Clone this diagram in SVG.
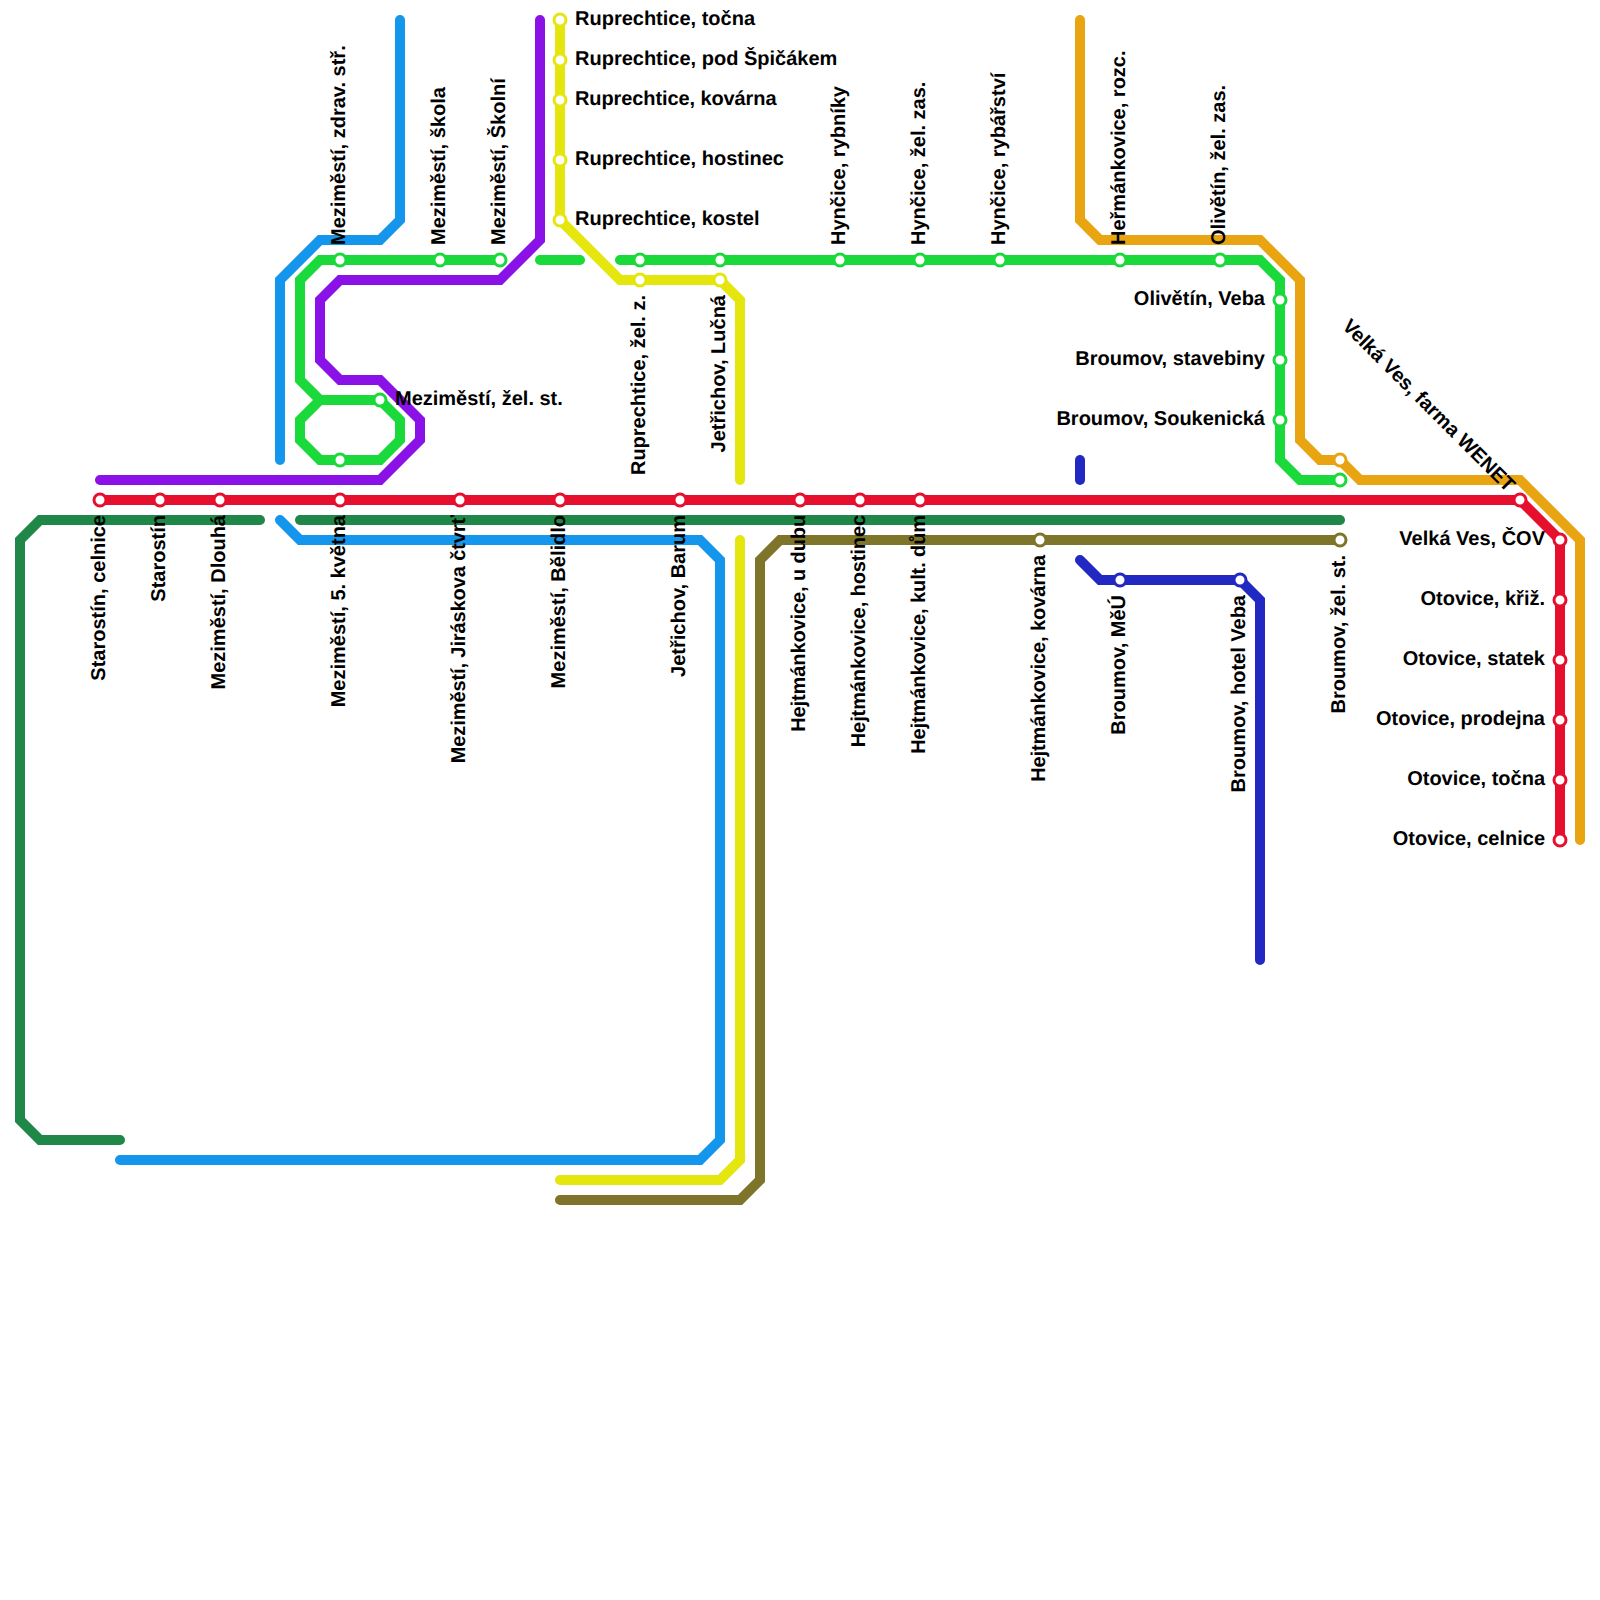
<svg xmlns="http://www.w3.org/2000/svg" width="1600" height="1600" viewBox="0 0 1600 1600">
<style>
.l{fill:none;stroke-width:10;stroke-linecap:round;stroke-linejoin:miter}
.s{fill:#fff;stroke-width:3}
text{font-family:"Liberation Sans",Arial,sans-serif;font-weight:bold;font-size:20px;fill:#000;text-rendering:geometricPrecision}
.e{text-anchor:end}
.k{letter-spacing:-0.1px}
.red{stroke:#e60f2d}.dg{stroke:#1f8747}.bl{stroke:#1396eb}.gr{stroke:#19d93b}.pu{stroke:#8a12e6}.ye{stroke:#e6e60f}.ol{stroke:#7f752a}.or{stroke:#e8a411}.db{stroke:#2129c2}
</style>
<g id="connectors">
<path class="l dg" d="M260 520H40L20 540V1120L40 1140H120"/>
<path class="l dg" d="M300 520H1340"/>
<path class="l bl" d="M400 20V220L380 240H320L280 280V460"/>
<path class="l bl" d="M280 520L300 540H700L720 560V1140L700 1160H120"/>
<path class="l gr" d="M500 260H320L300 280V380L320 400H380L400 420V440L380 460H320L300 440V420L320 400"/>
<path class="l gr" d="M540 260H580"/>
<path class="l gr" d="M620 260H1260L1280 280V460L1300 480H1340"/>
<path class="l pu" d="M100 480H380L420 440V420L380 380H340L320 360V300L340 280H500L540 240V20"/>
<path class="l ye" d="M560 20V220L620 280H720L740 300V480"/>
<path class="l ye" d="M740 540V1160L720 1180H560"/>
<path class="l ol" d="M560 1200H740L760 1180V560L780 540H1340"/>
<path class="l or" d="M1080 20V220L1100 240H1260L1300 280V440L1320 460H1340L1360 480H1520L1580 540V840"/>
<path class="l db" d="M1080 460V480"/>
<path class="l db" d="M1080 560L1100 580H1240L1260 600V960"/>
<path class="l red" d="M100 500H1520L1560 540V840"/>
</g>
<g id="n-starostin-celnice"><circle class="s red" cx="100" cy="500" r="6"/><text transform="translate(105 515) rotate(-90)" class="e">Starostín, celnice</text></g>
<g id="n-starostin"><circle class="s red" cx="160" cy="500" r="6"/><text transform="translate(165 515) rotate(-90)" class="e">Starostín</text></g>
<g id="n-dlouha"><circle class="s red" cx="220" cy="500" r="6"/><text transform="translate(225 515) rotate(-90)" class="e">Meziměstí, Dlouhá</text></g>
<g id="n-5kvetna"><circle class="s red" cx="340" cy="500" r="6"/><text transform="translate(345 515) rotate(-90)" class="e">Meziměstí, 5. května</text></g>
<g id="n-jiraskova"><circle class="s red" cx="460" cy="500" r="6"/><text transform="translate(465 515) rotate(-90)" class="e k">Meziměstí, Jiráskova čtvrť</text></g>
<g id="n-belidlo"><circle class="s red" cx="560" cy="500" r="6"/><text transform="translate(565 515) rotate(-90)" class="e">Meziměstí, Bělidlo</text></g>
<g id="n-barum"><circle class="s red" cx="680" cy="500" r="6"/><text transform="translate(685 515) rotate(-90)" class="e">Jetřichov, Barum</text></g>
<g id="n-udubu"><circle class="s red" cx="800" cy="500" r="6"/><text transform="translate(805 515) rotate(-90)" class="e k">Hejtmánkovice, u dubu</text></g>
<g id="n-hejt-hostinec"><circle class="s red" cx="860" cy="500" r="6"/><text transform="translate(865 515) rotate(-90)" class="e k">Hejtmánkovice, hostinec</text></g>
<g id="n-kultdum"><circle class="s red" cx="920" cy="500" r="6"/><text transform="translate(925 515) rotate(-90)" class="e k">Hejtmánkovice, kult. dům</text></g>
<g id="n-farma"><circle class="s red" cx="1520" cy="500" r="6"/><text transform="translate(1507 493) rotate(45)" class="e">Velká Ves, farma WENET</text></g>
<g id="n-cov"><circle class="s red" cx="1560" cy="540" r="6"/><text x="1545" y="545" class="e">Velká Ves, ČOV</text></g>
<g id="n-otovice-kriz"><circle class="s red" cx="1560" cy="600" r="6"/><text x="1545" y="605" class="e">Otovice, křiž.</text></g>
<g id="n-otovice-statek"><circle class="s red" cx="1560" cy="660" r="6"/><text x="1545" y="665" class="e">Otovice, statek</text></g>
<g id="n-otovice-prodejna"><circle class="s red" cx="1560" cy="720" r="6"/><text x="1545" y="725" class="e">Otovice, prodejna</text></g>
<g id="n-otovice-tocna"><circle class="s red" cx="1560" cy="780" r="6"/><text x="1545" y="785" class="e">Otovice, točna</text></g>
<g id="n-otovice-celnice"><circle class="s red" cx="1560" cy="840" r="6"/><text x="1545" y="845" class="e">Otovice, celnice</text></g>
<g id="n-zdrav"><circle class="s gr" cx="340" cy="260" r="6"/><text transform="translate(345 245) rotate(-90)">Meziměstí, zdrav. stř.</text></g>
<g id="n-skola"><circle class="s gr" cx="440" cy="260" r="6"/><text transform="translate(445 245) rotate(-90)">Meziměstí, škola</text></g>
<g id="n-skolni"><circle class="s gr" cx="500" cy="260" r="6"/><text transform="translate(505 245) rotate(-90)">Meziměstí, Školní</text></g>
<g id="n-zelst"><circle class="s gr" cx="380" cy="400" r="6"/><text x="395" y="405">Meziměstí, žel. st.</text></g>
<g id="n-mez-s"><circle class="s gr" cx="340" cy="460" r="6"/></g>
<g id="n-rup-z-g"><circle class="s gr" cx="640" cy="260" r="6"/></g>
<g id="n-luc-g"><circle class="s gr" cx="720" cy="260" r="6"/></g>
<g id="n-rybniky"><circle class="s gr" cx="840" cy="260" r="6"/><text transform="translate(845 245) rotate(-90)">Hynčice, rybníky</text></g>
<g id="n-hyn-zas"><circle class="s gr" cx="920" cy="260" r="6"/><text transform="translate(925 245) rotate(-90)">Hynčice, žel. zas.</text></g>
<g id="n-rybarstvi"><circle class="s gr" cx="1000" cy="260" r="6"/><text transform="translate(1005 245) rotate(-90)">Hynčice, rybářství</text></g>
<g id="n-rozc"><circle class="s gr" cx="1120" cy="260" r="6"/><text transform="translate(1125 245) rotate(-90)">Heřmánkovice, rozc.</text></g>
<g id="n-oli-zas"><circle class="s gr" cx="1220" cy="260" r="6"/><text transform="translate(1225 245) rotate(-90)">Olivětín, žel. zas.</text></g>
<g id="n-veba"><circle class="s gr" cx="1280" cy="300" r="6"/><text x="1265" y="305" class="e">Olivětín, Veba</text></g>
<g id="n-stavebiny"><circle class="s gr" cx="1280" cy="360" r="6"/><text x="1265" y="365" class="e">Broumov, stavebiny</text></g>
<g id="n-soukenicka"><circle class="s gr" cx="1280" cy="420" r="6"/><text x="1265" y="425" class="e">Broumov, Soukenická</text></g>
<g id="n-br-g"><circle class="s gr" cx="1340" cy="480" r="6"/></g>
<g id="n-br-o"><circle class="s or" cx="1340" cy="460" r="6"/></g>
<g id="n-tocna"><circle class="s ye" cx="560" cy="20" r="6"/><text x="575" y="25">Ruprechtice, točna</text></g>
<g id="n-spicak"><circle class="s ye" cx="560" cy="60" r="6"/><text x="575" y="65">Ruprechtice, pod Špičákem</text></g>
<g id="n-kovarna"><circle class="s ye" cx="560" cy="100" r="6"/><text x="575" y="105" class="k">Ruprechtice, kovárna</text></g>
<g id="n-rup-hostinec"><circle class="s ye" cx="560" cy="160" r="6"/><text x="575" y="165">Ruprechtice, hostinec</text></g>
<g id="n-kostel"><circle class="s ye" cx="560" cy="220" r="6"/><text x="575" y="225">Ruprechtice, kostel</text></g>
<g id="n-rup-z"><circle class="s ye" cx="640" cy="280" r="6"/><text transform="translate(645 295) rotate(-90)" class="e">Ruprechtice, žel. z.</text></g>
<g id="n-lucna"><circle class="s ye" cx="720" cy="280" r="6"/><text transform="translate(725 295) rotate(-90)" class="e">Jetřichov, Lučná</text></g>
<g id="n-hejt-kovarna"><circle class="s ol" cx="1040" cy="540" r="6"/><text transform="translate(1045 555) rotate(-90)" class="e k">Hejtmánkovice, kovárna</text></g>
<g id="n-br-zel"><circle class="s ol" cx="1340" cy="540" r="6"/><text transform="translate(1345 555) rotate(-90)" class="e">Broumov, žel. st.</text></g>
<g id="n-meu"><circle class="s db" cx="1120" cy="580" r="6"/><text transform="translate(1125 595) rotate(-90)" class="e">Broumov, MěÚ</text></g>
<g id="n-hotel"><circle class="s db" cx="1240" cy="580" r="6"/><text transform="translate(1245 595) rotate(-90)" class="e">Broumov, hotel Veba</text></g>
</svg>
